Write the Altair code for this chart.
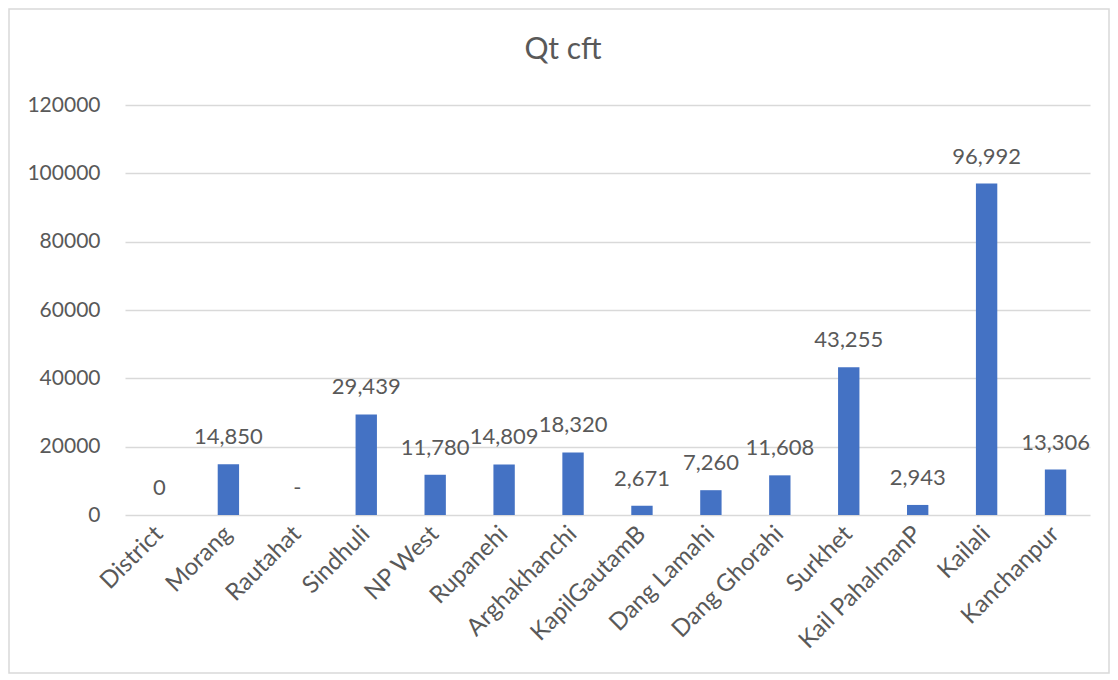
import altair as alt
import pandas as pd

districts = ["District", "Morang", "Rautahat", "Sindhuli", "NP West", "Rupanehi",
             "Arghakhanchi", "KapilGautamB", "Dang Lamahi", "Dang Ghorahi",
             "Surkhet", "Kail PahalmanP", "Kailali", "Kanchanpur"]
values = [0, 14850, 0, 29439, 11780, 14809, 18320, 2671, 7260, 11608,
          43255, 2943, 96992, 13306]
labels = ["0", "14,850", "-", "29,439", "11,780", "14,809", "18,320", "2,671",
          "7,260", "11,608", "43,255", "2,943", "96,992", "13,306"]
y_ticks = [0, 20000, 40000, 60000, 80000, 100000, 120000]
chart_title = "Qt cft"

df = pd.DataFrame({"District": districts, "Qt": values, "Label": labels})

FONT = "Lato"
GREY = "#595959"

x_enc = alt.X("District:N", sort=districts, title=None,
              scale=alt.Scale(paddingInner=0.69, paddingOuter=0.345),
              axis=alt.Axis(labelAngle=-45, labelAlign="right", labelBaseline="middle",
                            labelFontSize=24, labelColor=GREY, labelFont=FONT,
                            ticks=False, domain=False, labelPadding=15, grid=False))
y_enc = alt.Y("Qt:Q", title=None,
              scale=alt.Scale(domain=[0, 120000], nice=False),
              axis=alt.Axis(values=y_ticks, format="d", labelFontSize=21,
                            labelColor=GREY, labelFont=FONT, ticks=False,
                            domain=False, labelPadding=25, gridColor="#D9D9D9",
                            gridWidth=1.5))

base = alt.Chart(df)
one = base.transform_filter(alt.datum.District == "District")

frame = one.mark_rect(fill=None, stroke="#D9D9D9", strokeWidth=1.5).encode(
    x=alt.value(-116), x2=alt.value(984), y=alt.value(-96), y2=alt.value(568)
)

title = one.mark_text(font=FONT, fontSize=30, color=GREY, baseline="middle",
                      align="center").encode(
    x=alt.value(438), y=alt.value(-55), text=alt.value(chart_title)
)

bars = base.mark_bar(color="#4472C4").encode(x=x_enc, y=y_enc)

text = base.mark_text(font=FONT, fontSize=22, color=GREY, baseline="middle", dy=-27).encode(
    x=alt.X("District:N", sort=districts),
    y=alt.Y("Qt:Q"),
    text="Label:N",
)

chart = alt.layer(frame, title, bars, text).properties(
    width=965, height=410,
    padding={"left": 117, "top": 97, "right": 20, "bottom": 160},
    autosize=alt.AutoSizeParams(type="none"),
).configure_view(stroke=None)

chart.save("out.html", embed_options={"renderer": "svg", "actions": False})
